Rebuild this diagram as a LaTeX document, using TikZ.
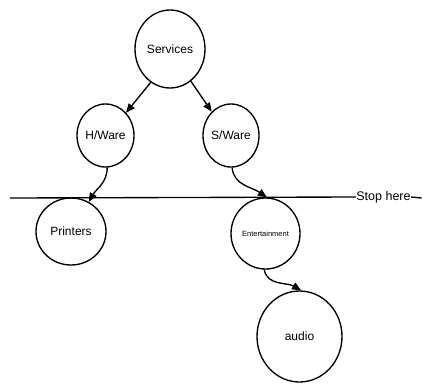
\documentclass[tikz,border=0pt]{standalone}
\usepackage{fontspec}
\setmainfont{Liberation Sans}
\usetikzlibrary{shapes.geometric,arrows.meta}
\begin{document}
\begin{tikzpicture}[x=1pt,y=1pt,
  bubble/.style={draw,ellipse,line width=1.35pt,inner sep=0pt,
    font=\fontsize{12}{14}\selectfont},
  link/.style={line width=1.35pt,-{Triangle[length=9pt,width=7.5pt]}},
  rule/.style={line width=1.35pt}]
\useasboundingbox (0,0) rectangle (422,384);
% topic bubbles
\node[bubble,minimum width=70pt,minimum height=78pt] (svc) at (170,335) {Services};
\node[bubble,minimum width=57pt,minimum height=63pt] (hw) at (105.5,248.5) {H/Ware};
\node[bubble,minimum width=56pt,minimum height=63pt] (sw) at (231,248.5) {S/Ware};
\node[bubble,minimum width=70pt,minimum height=67pt] (pr) at (71,152.5) {Printers};
\node[bubble,minimum width=69pt,minimum height=71pt,
  font=\fontsize{7.5}{9}\selectfont] (ent) at (265.5,150.5) {Entertainment};
\node[bubble,minimum width=85pt,minimum height=91pt] (aud) at (299.5,47.5) {audio};
% cut-off line
\coordinate (ruleL) at (10,186);
\coordinate (ruleR) at (421.5,186);
\node[inner sep=0.3pt,font=\fontsize{12.5}{14}\selectfont] (stop) at (383.5,187) {Stop here};
\draw[rule] (ruleL) -- (stop.west);
\draw[rule] (stop.east) -- (ruleR);
% connectors
\draw[link] (svc.-120) -- (hw.48);
\draw[link] (svc.-57) -- (sw.129);
\draw[link] (hw.-87) to[out=-90,in=60] (pr.59);
\draw[link] (sw.-88) to[out=-85,in=145] (ent.88);
\draw[link] (ent.-92) to[out=-80,in=150] (aud.88);
\end{tikzpicture}
\end{document}
